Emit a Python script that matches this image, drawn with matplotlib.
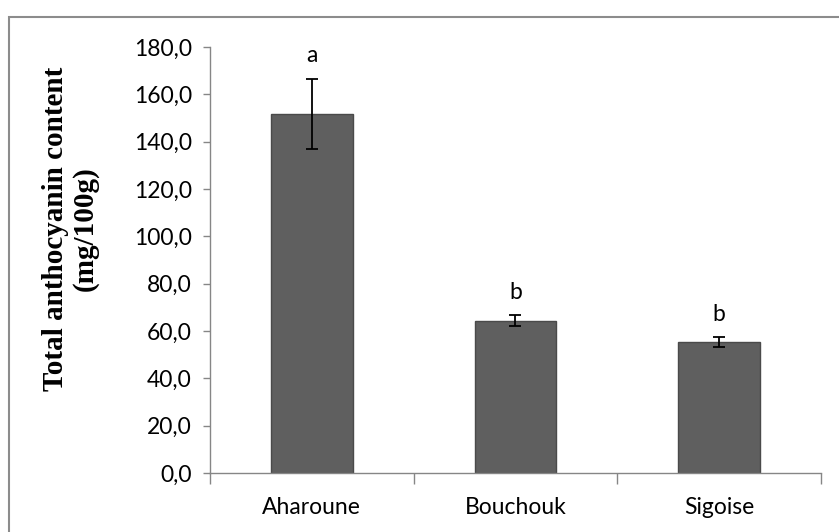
import numpy as np
import matplotlib.pyplot as plt
from matplotlib.patches import Rectangle

# data
cultivars = ['Aharoune', 'Bouchouk', 'Sigoise']
anthocyanin = [151.8, 64.3, 55.4]
sd = [14.7, 2.4, 2.0]
letters = ['a', 'b', 'b']
yticks = np.arange(0, 181, 20)

fig = plt.figure(figsize=(8.39, 5.32), dpi=100)
ax = fig.add_axes([0.2503, 0.1109, 0.7282, 0.8008])

x = np.arange(len(cultivars))
ax.bar(x, anthocyanin, width=0.4, color='#5f5f5f', edgecolor='#4a4a4a', linewidth=1.0, zorder=2)
ax.errorbar(x, anthocyanin, yerr=sd, fmt='none', ecolor='black', elinewidth=1.3,
            capsize=4.5, capthick=1.3, zorder=3)

for xi, v, e, lab in zip(x, anthocyanin, sd, letters):
    ax.annotate(lab, (xi, v + e), xytext=(0, 9), textcoords='offset points',
                ha='center', va='bottom', fontsize=16.5, family='Lato')

ax.set_xlim(-0.5, len(cultivars) - 0.5)
ax.set_ylim(0, 180)
ax.set_yticks(yticks)
ax.set_yticklabels([('%.1f' % t).replace('.', ',') for t in yticks], fontsize=16.5, family='Lato')
ax.set_xticks(x)
ax.set_xticklabels(cultivars, fontsize=16.5, family='Lato')
ax.tick_params(axis='x', length=0, pad=17)
ax.tick_params(axis='y', length=5, width=1.0, color='#868686', pad=8)
ax.set_xticks(np.arange(-0.5, len(cultivars), 1.0), minor=True)
ax.tick_params(axis='x', which='minor', length=8, width=1.0, color='#868686')

for s in ['top', 'right']:
    ax.spines[s].set_visible(False)
for s in ['left', 'bottom']:
    ax.spines[s].set_color('#868686')
    ax.spines[s].set_linewidth(1.0)

ax.set_ylabel('Total anthocyanin content\n(mg/100g)', fontsize=21, fontweight='bold',
              family='Liberation Serif', linespacing=1.1)
ax.yaxis.set_label_coords(-0.182, 0.573)

# chart-area border as in the office export
fig.patches.append(Rectangle((9 / 839, -0.05), 1.0, 1 - 17 / 532 + 0.05, transform=fig.transFigure,
                             fill=False, edgecolor='#8c8c8c', linewidth=1.5))

fig.savefig('out.png', dpi=100)
